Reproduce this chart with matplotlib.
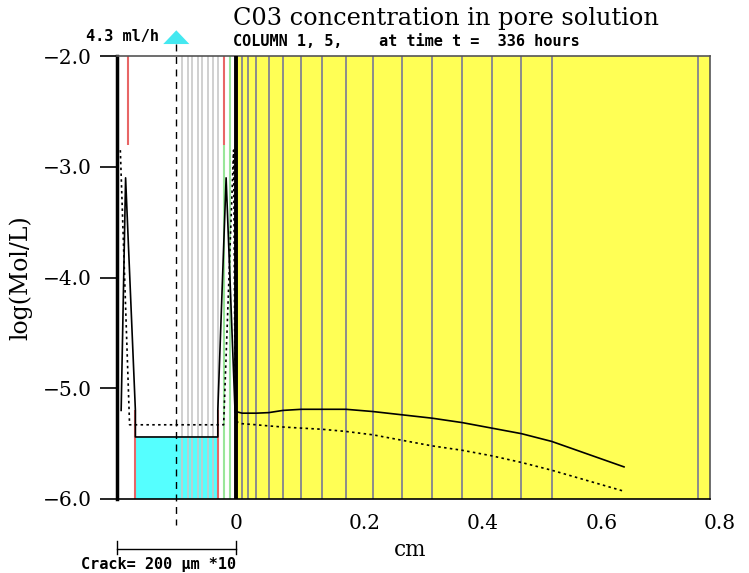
import numpy as np
import matplotlib
matplotlib.use("Agg")
import matplotlib.pyplot as plt
from matplotlib.patches import Polygon
from matplotlib.transforms import ScaledTranslation

# --- data ---
concrete_nodes = [0.011, 0.021, 0.035, 0.056, 0.080, 0.111, 0.145, 0.186, 0.231,
                  0.281, 0.331, 0.382, 0.432, 0.482, 0.533, 0.779]
crack_nodes = [-0.090, -0.081, -0.073, -0.064, -0.056, -0.047, -0.038, -0.030]

conc_x = [0.0, 0.011, 0.035, 0.056, 0.080, 0.111, 0.145, 0.186, 0.231,
          0.281, 0.331, 0.382, 0.432, 0.482, 0.533, 0.655]
conc_solid = [-5.21, -5.225, -5.225, -5.22, -5.20, -5.19, -5.19, -5.19, -5.21,
              -5.24, -5.27, -5.31, -5.36, -5.41, -5.48, -5.71]
conc_dotted = [-5.30, -5.32, -5.33, -5.34, -5.35, -5.36, -5.37, -5.39, -5.42,
               -5.47, -5.52, -5.56, -5.61, -5.67, -5.74, -5.93]

crack_x_solid = [-0.193, -0.1855, -0.169, -0.169, -0.030, -0.030, -0.016, -0.001]
crack_solid = [-5.20, -3.10, -5.20, -5.44, -5.44, -5.20, -3.10, -5.20]
crack_x_dot = [-0.1944, -0.1788, -0.0202, -0.0034, -0.0005]
crack_dotted = [-2.85, -5.33, -5.33, -2.85, -5.30]

fill_x = [-0.169, -0.030]
fill_level = -5.44

xticks = [0.0, 0.2, 0.4, 0.6, 0.8]
xticklabels = ["0", "0.2", "0.4", "0.6", "0.8"]
yticks = [-2.0, -3.0, -4.0, -5.0, -6.0]
yticklabels = ["\u22122.0", "\u22123.0", "\u22124.0", "\u22125.0", "\u22126.0"]

YELLOW = "#FFFF55"
CYAN = "#55FFFF"
RED = "#E86666"
GREEN = "#99E699"

fig = plt.figure(figsize=(7.49, 5.73), dpi=100)
ax = fig.add_axes([117 / 749, 74 / 573, 593 / 749, 443 / 573])
ax.set_xlim(-0.2, 0.8)
ax.set_ylim(-6.0, -2.0)

# background regions
ax.axvspan(0, 0.8, color=YELLOW, zorder=0, lw=0)
ax.fill_between(fill_x, -6.0, fill_level, color=CYAN, zorder=1, lw=0)

# node lines
ax.vlines(concrete_nodes, -6, -2, color="#8C8C8C", lw=1.4, zorder=2)
ax.vlines(crack_nodes, -6, -2, color="#C8C8C8", lw=1.2, zorder=2)
ax.vlines([-0.181, -0.0202], -2.8, -2.0, color=RED, lw=1.5, zorder=2)
ax.vlines([-0.169, -0.030], -6.0, -5.2, color=RED, lw=1.5, zorder=2)
ax.vlines([-0.0202], -6.0, -2.8, color=GREEN, lw=1.5, zorder=2)
ax.vlines([-0.0101], -6.0, -2.0, color=GREEN, lw=1.5, zorder=2)
ax.axvline(0.001, color="black", lw=2.8, zorder=3)

# concentration profiles
ax.plot(crack_x_solid + conc_x, crack_solid + conc_solid, color="black", lw=1.2, zorder=4)
ax.plot(crack_x_dot + conc_x, crack_dotted + conc_dotted, color="black", lw=1.2,
        ls=(0, (1.5, 2)), zorder=4)

# crack centre (flow inlet)
xt = ax.get_xaxis_transform()
ax.plot([-0.1, -0.1], [1.027, -0.059], transform=xt, color="black", lw=1.0,
        ls=(0, (5, 4)), clip_on=False, zorder=5)
tri = Polygon([[-0.122, 1.027], [-0.078, 1.027], [-0.1, 1.058]], closed=True,
              transform=xt, facecolor="#44E8F0", edgecolor="none", clip_on=False, zorder=6)
ax.add_patch(tri)
fig.text(86 / 749, 1 - 36 / 573, "4.3 ml/h", family="DejaVu Sans Mono",
         weight="bold", fontsize=11, va="center", ha="left")

# spines / ticks
for side in ["top", "right", "bottom"]:
    ax.spines[side].set_color("#555555")
    ax.spines[side].set_linewidth(1.2)
ax.spines["bottom"].set_color("black")
ax.spines["left"].set_linewidth(2.5)

ax.set_yticks(yticks)
ax.set_yticklabels(yticklabels, family="DejaVu Serif", fontsize=14.5)
ax.tick_params(axis="y", direction="out", length=12, width=1.2, pad=6)

ax.set_xticks(xticks)
ax.set_xticklabels(xticklabels, family="DejaVu Serif", fontsize=14.5, ha="left")
ax.tick_params(axis="x", which="major", length=0, pad=11)
off = ScaledTranslation(-6 / 100, 0, fig.dpi_scale_trans)
for lab in ax.get_xticklabels():
    lab.set_transform(lab.get_transform() + off)
ax.set_xticks([0.2, 0.4, 0.6], minor=True)
ax.tick_params(axis="x", which="minor", direction="in", length=13, width=1.2,
               top=True, bottom=True, color="#333333")

ax.set_ylabel("log(Mol/L)", family="DejaVu Serif", fontsize=17, labelpad=8)
fig.text(410 / 749, 1 - 550 / 573, "cm", family="DejaVu Serif", fontsize=15.5,
         ha="center", va="center")

# titles
fig.text(233 / 749, 1 - 18 / 573, "C03 concentration in pore solution",
         family="DejaVu Serif", fontsize=17.3, ha="left", va="center")
fig.text(233 / 749, 1 - 41 / 573, "COLUMN 1, 5,    at time t =  336 hours",
         family="DejaVu Sans Mono", weight="bold", fontsize=11, ha="left", va="center")

# crack scale bar
ax.plot([-0.2, 0.0], [-0.112, -0.112], transform=xt, color="black", lw=1.0, clip_on=False)
ax.plot([-0.2, -0.2], [-0.095, -0.125], transform=xt, color="black", lw=1.0, clip_on=False)
ax.plot([0.0, 0.0], [-0.095, -0.125], transform=xt, color="black", lw=1.0, clip_on=False)
fig.text(236 / 749, 1 - 565 / 573, "Crack= 200 \u03bcm *10", family="DejaVu Sans Mono",
         weight="bold", fontsize=11, ha="right", va="center")

fig.savefig("out.png", dpi=100)
